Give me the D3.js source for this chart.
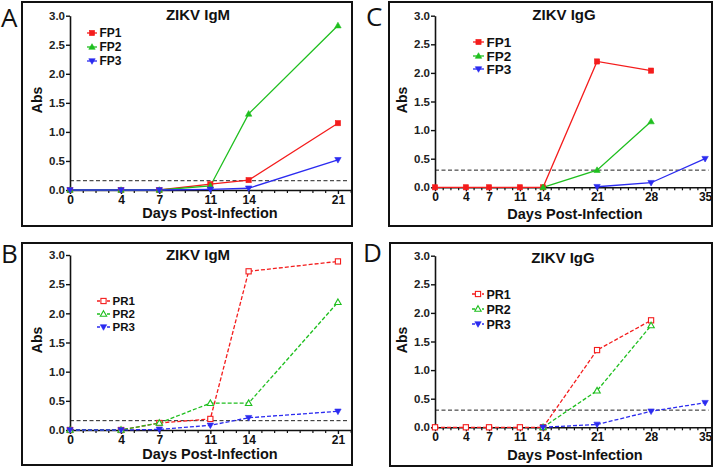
<!DOCTYPE html>
<html><head><meta charset="utf-8">
<script src="https://cdn.jsdelivr.net/npm/d3@7"></script>
<style>body{margin:0;background:#fff}svg{display:block}</style>
</head><body>
<svg id="c" width="720" height="467"></svg>
<script>
const daysIgM = [0,4,7,11,14,21];
const daysIgG = [0,4,7,11,14,21,28,35];
const igmFP1 = [0,0,0,0.10,0.17,1.15];
const igmFP2 = [0,0,0,0.07,1.31,2.83];
const igmFP3 = [0,0,0,0.01,0.03,0.52];
const iggFP1 = [0,0,0,0,0,2.20,2.04,null];
const iggFP2 = [null,null,null,null,0,0.30,1.15,null];
const iggFP3 = [null,null,null,null,null,0.01,0.08,0.50];
const igmPR1 = [0,0,0.12,0.19,2.72,2.89];
const igmPR2 = [0,0,0.12,0.46,0.46,2.19];
const igmPR3 = [0,0,0.01,0.08,0.21,0.32];
const iggPR1 = [0,0,0,0,0,1.35,1.87,null];
const iggPR2 = [null,null,null,null,0,0.64,1.78,null];
const iggPR3 = [null,null,null,null,0,0.05,0.28,0.43];
const yTicks = [0,0.5,1.0,1.5,2.0,2.5,3.0];
const cutIgM = 0.16, cutIgG = 0.30;
const fpNames = ["FP1","FP2","FP3"], prNames = ["PR1","PR2","PR3"];
const titles = ["ZIKV IgM","ZIKV IgG"];
const letters = ["A","B","C","D"];
const colors = ["#f41c1c","#1fbf1f","#2b2bf0"];

const svg = d3.select("#c");
const font = "Liberation Sans, Arial, sans-serif";

const panels = [
 {letter:letters[0], frame:[22,2,330,224], xr:[70,350.7], xmax:22, yr:[190,15.7], days:daysIgM, series:[igmFP1,igmFP2,igmFP3], names:fpNames, title:titles[0], cut:cutIgM, dashed:false,
  titleX:198, titleY:19.5, legX:87, legLen:10, legY:[33,47,61], legFont:12, letPos:[1,27], absX:42, absY:100, xlabY:218},
 {letter:letters[1], frame:[22,243,330,222], xr:[70,350.7], xmax:22, yr:[430,255], days:daysIgM, series:[igmPR1,igmPR2,igmPR3], names:prNames, title:titles[0], cut:cutIgM, dashed:true,
  titleX:198, titleY:260, legX:97, legLen:13, legY:[301,314,327], legFont:11.5, letPos:[1,263], absX:42, absY:340, xlabY:459},
 {letter:letters[2], frame:[389,2,323,224], xr:[435,710.5], xmax:35.7, yr:[187.3,15.7], days:daysIgG, series:[iggFP1,iggFP2,iggFP3], names:fpNames, title:titles[1], cut:cutIgG, dashed:false,
  titleX:564, titleY:20, legX:473, legLen:11, legY:[42,56,69], legFont:13.5, letPos:[366,26], absX:407, absY:100, xlabY:219},
 {letter:letters[3], frame:[390,243,322,223], xr:[435,710.5], xmax:35.7, yr:[427.3,255.7], days:daysIgG, series:[iggPR1,iggPR2,iggPR3], names:prNames, title:titles[1], cut:cutIgG, dashed:true,
  titleX:563, titleY:263, legX:472, legLen:12, legY:[294,309,324], legFont:12.5, letPos:[363,262], absX:407, absY:340, xlabY:460}
];

function marker(g, kind, x, y, color, open){
  if(kind===0){
    g.append("rect").attr("x",x-2.6).attr("y",y-2.6).attr("width",5.2).attr("height",5.2)
     .attr("fill",open?"#fff":color).attr("stroke",color).attr("stroke-width",open?1.1:0.6);
  } else if(kind===1){
    g.append("path").attr("d",`M${x},${y-3.3}L${x+3.2},${y+2.3}L${x-3.2},${y+2.3}Z`)
     .attr("fill",open?"#fff":color).attr("stroke",color).attr("stroke-width",open?1.1:0.6);
  } else {
    g.append("path").attr("d",`M${x},${y+3.3}L${x+3.2},${y-2.3}L${x-3.2},${y-2.3}Z`)
     .attr("fill",color).attr("stroke",color).attr("stroke-width",0.6);
  }
}

panels.forEach(p=>{
  const g = svg.append("g");
  g.append("rect").attr("x",p.frame[0]).attr("y",p.frame[1]).attr("width",p.frame[2]).attr("height",p.frame[3])
   .attr("fill","none").attr("stroke","#111").attr("stroke-width",2);
  g.append("text").attr("x",p.letPos[0]).attr("y",p.letPos[1]).text(p.letter)
   .attr("font-family","Open Sans, sans-serif").attr("font-size",26).attr("fill","#111");

  const x = d3.scaleLinear().domain([0,p.xmax]).range(p.xr);
  const y = d3.scaleLinear().domain([0,3]).range(p.yr);

  g.append("line").attr("x1",x(0)).attr("x2",p.xr[1]-2).attr("y1",y(p.cut)).attr("y2",y(p.cut))
   .attr("stroke","#222").attr("stroke-width",1).attr("stroke-dasharray","4,2.5");

  const minor = d3.range(0, Math.floor(p.xmax)+1).filter(d=>!p.days.includes(d));
  g.append("g").attr("transform",`translate(0,${p.yr[0]})`)
   .call(d3.axisBottom(x).tickValues(minor).tickSize(3).tickFormat(""))
   .call(a=>a.select(".domain").remove())
   .call(a=>a.selectAll("line").attr("stroke","#111").attr("stroke-width",1.2));
  g.append("g").attr("transform",`translate(0,${p.yr[0]})`)
   .call(d3.axisBottom(x).tickValues(p.days).tickSize(4).tickSizeOuter(0).tickFormat(d3.format("d")).tickPadding(1))
   .call(a=>a.select(".domain").attr("stroke","#111").attr("stroke-width",1.6))
   .call(a=>a.selectAll("line").attr("stroke","#111").attr("stroke-width",1.4))
   .call(a=>a.selectAll("text").attr("font-family",font).attr("font-weight","bold").attr("font-size",12).attr("fill","#111"));
  g.append("g").attr("transform",`translate(${p.xr[0]},0)`)
   .call(d3.axisLeft(y).tickValues(yTicks).tickSize(4).tickSizeOuter(0).tickFormat(d3.format(".1f")).tickPadding(1))
   .call(a=>a.select(".domain").attr("stroke","#111").attr("stroke-width",1.6))
   .call(a=>a.selectAll("line").attr("stroke","#111").attr("stroke-width",1.4))
   .call(a=>a.selectAll("text").attr("font-family",font).attr("font-weight","bold").attr("font-size",11.5).attr("fill","#222"));

  p.series.forEach((s,i)=>{
    const pts = p.days.map((d,j)=>({d, v:s[j]}));
    g.append("path").datum(pts)
     .attr("d", d3.line().defined(q=>q.v!==null).x(q=>x(q.d)).y(q=>y(q.v)))
     .attr("fill","none").attr("stroke",colors[i]).attr("stroke-width",1.3)
     .attr("stroke-dasharray",p.dashed?"4,2":null);
  });
  p.series.forEach((s,i)=>{
    p.days.forEach((d,j)=>{ if(s[j]!==null) marker(g,i,x(d),y(s[j]),colors[i],p.dashed); });
  });

  g.append("text").attr("x",p.titleX).attr("y",p.titleY).attr("text-anchor","middle")
   .attr("font-family",font).attr("font-weight","bold").attr("font-size",15).attr("fill","#111").text(p.title);
  g.append("text").attr("transform",`translate(${p.absX},${p.absY}) rotate(-90)`).attr("text-anchor","middle")
   .attr("font-family",font).attr("font-weight","bold").attr("font-size",14).attr("fill","#111").text("Abs");
  g.append("text").attr("x",p.xr[0]+140).attr("y",p.xlabY).attr("text-anchor","middle")
   .attr("font-family",font).attr("font-weight","bold").attr("font-size",14.5).attr("fill","#111").text("Days Post-Infection");

  p.names.forEach((n,i)=>{
    const ly = p.legY[i];
    g.append("line").attr("x1",p.legX).attr("x2",p.legX+p.legLen).attr("y1",ly).attr("y2",ly)
     .attr("stroke",colors[i]).attr("stroke-width",1.3).attr("stroke-dasharray",p.dashed?"3,2":null);
    marker(g,i,p.legX+p.legLen/2,ly,colors[i],p.dashed);
    g.append("text").attr("x",p.legX+p.legLen+2.5).attr("y",ly+p.legFont*0.36).attr("font-family",font).attr("font-weight","bold")
     .attr("font-size",p.legFont).attr("fill","#111").text(n);
  });
});
</script>
</body></html>
